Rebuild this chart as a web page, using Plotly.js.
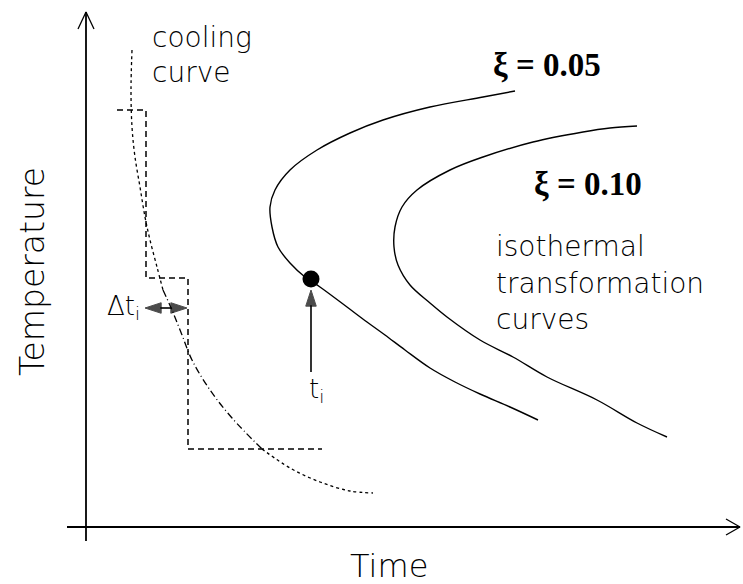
<!DOCTYPE html>
<html>
<head>
<meta charset="utf-8">
<script src="https://cdn.plot.ly/plotly-3.0.1.min.js"></script>
<style>html,body{margin:0;padding:0;background:#fff;}#chart{width:743px;height:584px;}</style>
</head>
<body>
<div id="chart"></div>
<script>
// Schematic units: time (horizontal) and temperature (vertical), origin at the axes crossing
// Cooling curve
const coolTime = [46, 45, 46, 49, 54, 59, 64, 71, 77, 86, 96, 106, 124, 146, 176, 204, 234, 264, 287];
const coolTemp = [477, 437, 400, 370, 340, 310, 287, 260, 237, 217, 192, 167, 137, 109, 78, 59, 45, 36, 34];
// Staircase approximation of the cooling curve
const stepTime = [31, 60, 60, 102, 102, 236];
const stepTemp = [417, 417, 249, 249, 78, 78];
// Isothermal transformation curve, xi = 0.05
const xi05Time = [429, 397, 344, 297, 264, 231, 204, 189, 184, 186, 192, 204, 219, 225, 234, 261, 281, 299, 319, 344, 369, 394, 424, 452];
const xi05Temp = [436, 430, 420, 407, 394, 377, 357, 337, 320, 300, 280, 264, 250, 246, 240, 220, 205, 192, 177, 159, 145, 133, 120, 107];
// Isothermal transformation curve, xi = 0.10
const xi10Time = [551, 524, 497, 447, 397, 364, 331, 316, 309, 308, 312, 324, 344, 361, 394, 427, 461, 511, 551, 581];
const xi10Temp = [401, 399, 395, 385, 370, 357, 337, 320, 300, 280, 262, 242, 224, 210, 187, 170, 150, 127, 104, 90];
// Point t_i on the xi = 0.05 curve
const pointTime = [225];
const pointTemp = [248];
// Axes extents
const axisTimeMin = -19, axisTimeMax = 654;
const axisTempMin = -14, axisTempMax = 515;
// Interval markers
const dtLeft = 59, dtRight = 101, dtMid = 80, dtTemp = 219;
const tiArrowFrom = 155, tiArrowTo = 237;

const blk = '#000';
const seg = (a, b) => ({x: coolTime.slice(a, b), y: coolTemp.slice(a, b)});
const s1 = seg(0, 9), s2 = seg(8, 15), s3 = seg(14, coolTime.length);

function arrowTrace(xs, ys, sz) {
  return {x: xs, y: ys, mode: 'lines+markers',
          line: {color: blk, width: 1.6},
          marker: {symbol: 'arrow', angleref: 'previous', size: [0, sz], color: blk, line: {width: 1, color: blk}}};
}

const traces = [
  {x: s1.x, y: s1.y, mode: 'lines', line: {color: blk, width: 1.3, dash: 'dot', shape: 'spline'}},
  {x: s2.x, y: s2.y, mode: 'lines', line: {color: blk, width: 1.3, dash: '7px,3px,1px,3px', shape: 'spline'}},
  {x: s3.x, y: s3.y, mode: 'lines', line: {color: blk, width: 1.3, dash: 'dot', shape: 'spline'}},
  {x: stepTime, y: stepTemp, mode: 'lines', line: {color: blk, width: 1.5, dash: '6px,4px'}},
  {x: xi05Time, y: xi05Temp, mode: 'lines', line: {color: blk, width: 1.4, shape: 'spline'}},
  {x: xi10Time, y: xi10Temp, mode: 'lines', line: {color: blk, width: 1.4, shape: 'spline'}},
  {x: pointTime, y: pointTemp, mode: 'markers', marker: {color: blk, size: 17}},
  arrowTrace([dtMid, dtLeft], [dtTemp, dtTemp], 17),
  arrowTrace([dtMid, dtRight], [dtTemp, dtTemp], 17),
  arrowTrace([pointTime[0], pointTime[0]], [tiArrowFrom, tiArrowTo], 17),
  // axes
  {x: [0, 0], y: [axisTempMin, axisTempMax], mode: 'lines', line: {color: blk, width: 1.8}},
  {x: [axisTimeMin, axisTimeMax], y: [0, 0], mode: 'lines', line: {color: blk, width: 1.8}},
  {x: [-8, 0, 8], y: [498, axisTempMax, 498], mode: 'lines', line: {color: blk, width: 1.3}},
  {x: [640, axisTimeMax, 640], y: [8, 0, -8], mode: 'lines', line: {color: blk, width: 1.3}}
];

const sans = {family: 'DejaVu Sans, Liberation Sans, Arial', size: 28, color: '#000', weight: 200};
const serif = {family: 'Liberation Serif, Times New Roman, serif', size: 33, color: '#000', weight: 'bold'};
function lab(text, x, y, font, xanchor) {
  return {text: text, x: x, y: y, xref: 'x', yref: 'y', showarrow: false, font: font,
          xanchor: xanchor || 'left', yanchor: 'middle'};
}

const annotations = [
  lab('cooling', 64, 490, sans),
  lab('curve', 64, 455, sans),
  lab('isothermal', 408, 281, sans),
  lab('transformation', 408, 244, sans),
  lab('curves', 408, 208, sans),
  lab('\u03be = 0.05', 461, 462, serif, 'center'),
  lab('\u03be = 0.10', 502, 343, serif, 'center'),
  lab('\u0394t<sub>i</sub>', 56, 220, Object.assign({}, sans, {size: 26}), 'right'),
  lab('t<sub>i</sub>', 230, 137, Object.assign({}, sans, {size: 26}), 'center'),
  lab('Time', 303, -39, Object.assign({}, sans, {size: 32}), 'center'),
  Object.assign(lab('Temperature', -54, 255, Object.assign({}, sans, {size: 33}), 'center'), {textangle: -90})
];

const layout = {
  width: 743, height: 584,
  margin: {l: 0, r: 0, t: 0, b: 0},
  paper_bgcolor: '#fff', plot_bgcolor: '#fff',
  showlegend: false,
  xaxis: {range: [-86, 657], visible: false, fixedrange: true},
  yaxis: {range: [-57, 527], visible: false, fixedrange: true},
  annotations: annotations
};

Plotly.newPlot('chart', traces, layout, {staticPlot: true, displayModeBar: false});
</script>
</body>
</html>
